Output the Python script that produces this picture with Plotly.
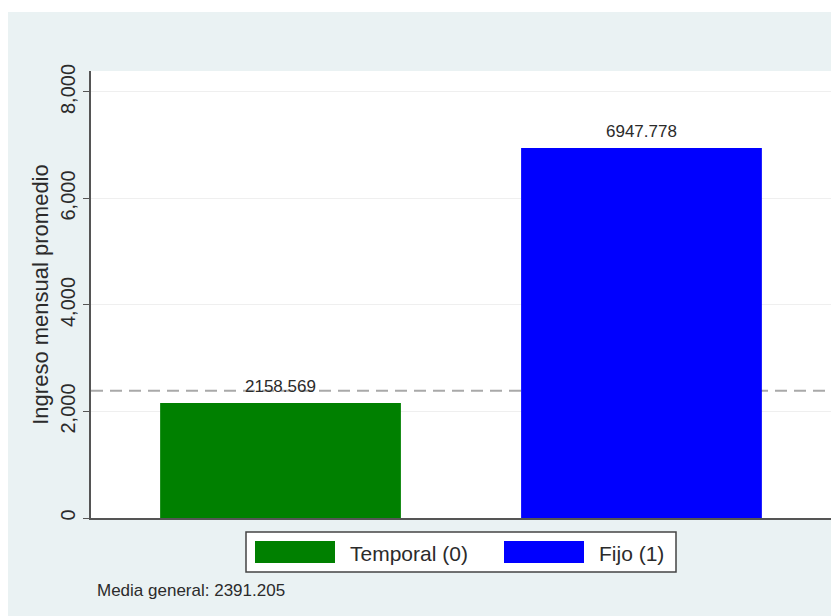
import plotly.graph_objects as go

# datos
categorias = ["Temporal (0)", "Fijo (1)"]
ingreso_promedio = [2158.569, 6947.778]
colores = ["#008000", "#0000FF"]
media_general = 2391.205
y_ticks = [0, 2000, 4000, 6000, 8000]

W, H = 839, 616
ML, MR, MT, MB = 83, 16, 63, 106
PW = W - ML - MR
PH = H - MT - MB
OFF = 8  # margen del body en la pagina


def px_x(px):
    return (px - OFF - ML) / PW


def px_y(py):
    return (H - MB - (py - OFF)) / PH


FONT = "Liberation Sans, Arial, Helvetica, sans-serif"
TXT = "#2b2b2b"

fig = go.Figure()
fig.add_trace(go.Bar(
    x=list(range(len(categorias))),
    y=ingreso_promedio,
    width=0.667,
    marker=dict(color=colores, line=dict(width=0)),
    showlegend=False,
    hoverinfo="y",
))

shapes = []
# franja blanca arriba
shapes.append(dict(type="rect", xref="paper", yref="paper",
                   x0=px_x(0), x1=px_x(W + 10), y0=px_y(12), y1=px_y(0),
                   fillcolor="white", line=dict(width=0), layer="below"))
# linea de la media general
shapes.append(dict(type="line", xref="paper", yref="y", x0=0, x1=1,
                   y0=media_general, y1=media_general, layer="below",
                   line=dict(color="#A9A9A9", width=2, dash="12px,7px")))

# leyenda manual (cajas anchas como en Stata)
shapes.append(dict(type="rect", xref="paper", yref="paper",
                   x0=px_x(246), x1=px_x(676), y0=px_y(532), y1=px_y(572),
                   fillcolor="white", line=dict(color="#444444", width=1.5)))
sw_left = [255, 504]
txt_left = [348, 597]
annotations = []
for i, cat in enumerate(categorias):
    shapes.append(dict(type="rect", xref="paper", yref="paper",
                       x0=px_x(sw_left[i]), x1=px_x(sw_left[i] + 80),
                       y0=px_y(541), y1=px_y(563),
                       fillcolor=colores[i], line=dict(width=0)))
    annotations.append(dict(x=px_x(txt_left[i]), y=px_y(553), xref="paper", yref="paper",
                            text=cat, showarrow=False, xanchor="left", yanchor="middle",
                            font=dict(size=21, color=TXT, family=FONT)))

# etiquetas de valor sobre las barras
for i, v in enumerate(ingreso_promedio):
    annotations.append(dict(x=i, y=v, xref="x", yref="y", text=f"{v:.3f}",
                            showarrow=False, yanchor="bottom", yshift=5,
                            font=dict(size=17, color=TXT, family=FONT)))

annotations.append(dict(x=px_x(95), y=px_y(590), xref="paper", yref="paper",
                        text=f"Media general: {media_general:.3f}", showarrow=False,
                        xanchor="left", yanchor="middle",
                        font=dict(size=17, color=TXT, family=FONT)))

fig.update_layout(
    width=W, height=H,
    margin=dict(l=ML, r=MR, t=MT, b=MB),
    paper_bgcolor="#EAF2F3",
    plot_bgcolor="white",
    font=dict(family=FONT, color=TXT),
    shapes=shapes,
    annotations=annotations,
    showlegend=False,
)
fig.update_xaxes(range=[-0.525, 1.525], showticklabels=False, ticks="",
                 showgrid=False, zeroline=False, showline=True,
                 linecolor="#555555", linewidth=2)
fig.update_yaxes(range=[0, 8394], tickvals=y_ticks, tickformat=",",
                 tickangle=-90, ticks="outside", ticklen=6, tickcolor="#555555",
                 tickfont=dict(size=20, color=TXT, family=FONT),
                 showgrid=True, gridcolor="#EFEFEF", gridwidth=1,
                 zeroline=False, showline=True, linecolor="#555555", linewidth=2,
                 title=dict(text="Ingreso mensual promedio", standoff=2,
                            font=dict(size=22, color=TXT, family=FONT)))

fig.write_html("out.html")
